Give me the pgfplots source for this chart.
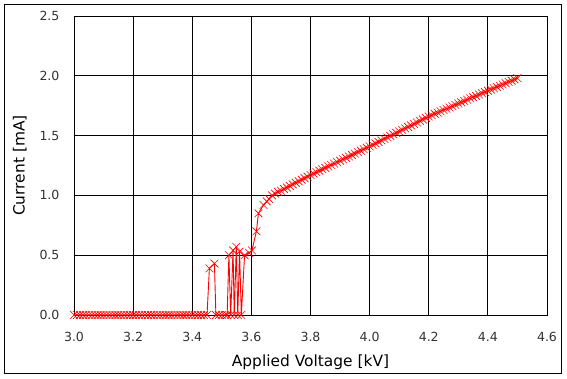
\documentclass[border=0pt]{standalone}
\usepackage{pgfplots}
\pgfplotsset{compat=1.18}
\usepackage{fontspec}
\setmainfont{DejaVu Sans}
\begin{document}
\begin{tikzpicture}
\path (-74bp,-64bp) rectangle (493bp,315bp);
\draw[line width=1bp] (-69bp,-58bp) rectangle (487bp,310bp);
\begin{axis}[
  at={(0,0)}, anchor=south west,
  scale only axis, width=473bp, height=299bp,
  xmin=3, xmax=4.6, ymin=0, ymax=2.5,
  xtick distance=0.2, ytick distance=0.5,
  grid=major, major grid style={black, line width=0.8bp},
  axis line style={black, line width=0.8bp},
  major tick length=0pt,
  tick label style={font=\fontsize{12.6}{14}\selectfont, text=black!80},
  /pgf/number format/assume math mode=true,
  /pgf/number format/.cd, fixed, fixed zerofill, precision=1, /pgfplots/.cd,
  xticklabel style={yshift=-14bp},
  yticklabel style={xshift=-11bp},
  xlabel={Applied Voltage [kV]}, ylabel={Current [mA]},
  label style={font=\fontsize{15.5}{17}\selectfont, text=black},
  xlabel style={yshift=-6bp},
  ylabel style={yshift=6bp},
]
\addplot[red, line width=0.9bp, mark=x, mark size=5.5bp, mark options={line width=0.6bp}] coordinates {
(3.00,0)(3.01,0)(3.02,0)(3.03,0)(3.04,0)(3.05,0)(3.06,0)(3.07,0)(3.08,0)(3.09,0)
(3.10,0)(3.11,0)(3.12,0)(3.13,0)(3.14,0)(3.15,0)(3.16,0)(3.17,0)(3.18,0)(3.19,0)
(3.20,0)(3.21,0)(3.22,0)(3.23,0)(3.24,0)(3.25,0)(3.26,0)(3.27,0)(3.28,0)(3.29,0)
(3.30,0)(3.31,0)(3.32,0)(3.33,0)(3.34,0)(3.35,0)(3.36,0)(3.37,0)(3.38,0)(3.39,0)
(3.40,0)(3.41,0)(3.42,0)(3.43,0)(3.44,0)(3.45,0)
(3.458,0.39)(3.475,0.43)(3.480,0)(3.490,0)(3.500,0)(3.510,0)(3.518,0)
(3.524,0.50)(3.530,0)(3.538,0.54)(3.542,0)(3.549,0.57)(3.554,0)(3.560,0.53)(3.566,0)
(3.577,0.50)(3.592,0.52)(3.602,0.54)(3.617,0.70)(3.624,0.85)(3.641,0.92)(3.652,0.95)
(3.66,0.97)(3.67,1.00)(3.68,1.015)(3.69,1.03)(3.70,1.04)
(3.71,1.053)(3.72,1.066)(3.73,1.079)(3.74,1.092)(3.75,1.105)(3.76,1.118)(3.77,1.131)(3.78,1.144)(3.79,1.157)(3.80,1.17)
(3.81,1.182)(3.82,1.194)(3.83,1.206)(3.84,1.218)(3.85,1.23)(3.86,1.242)(3.87,1.254)(3.88,1.266)(3.89,1.278)(3.90,1.29)
(3.91,1.302)(3.92,1.314)(3.93,1.326)(3.94,1.338)(3.95,1.35)(3.96,1.362)(3.97,1.374)(3.98,1.386)(3.99,1.398)(4.00,1.41)
(4.01,1.4225)(4.02,1.435)(4.03,1.4475)(4.04,1.46)(4.05,1.4725)(4.06,1.485)(4.07,1.4975)(4.08,1.51)(4.09,1.5225)(4.10,1.535)
(4.11,1.5475)(4.12,1.56)(4.13,1.5725)(4.14,1.585)(4.15,1.5975)(4.16,1.61)(4.17,1.6225)(4.18,1.635)(4.19,1.6475)(4.20,1.66)
(4.21,1.671)(4.22,1.682)(4.23,1.692)(4.24,1.703)(4.25,1.714)(4.26,1.725)(4.27,1.735)(4.28,1.746)(4.29,1.757)(4.30,1.768)
(4.31,1.778)(4.32,1.789)(4.33,1.800)(4.34,1.811)(4.35,1.821)(4.36,1.832)(4.37,1.843)(4.38,1.854)(4.39,1.864)(4.40,1.875)
(4.41,1.886)(4.42,1.896)(4.43,1.907)(4.44,1.917)(4.45,1.928)(4.46,1.938)(4.47,1.949)(4.48,1.959)(4.49,1.970)(4.50,1.98)
};
\end{axis}
\end{tikzpicture}
\end{document}
